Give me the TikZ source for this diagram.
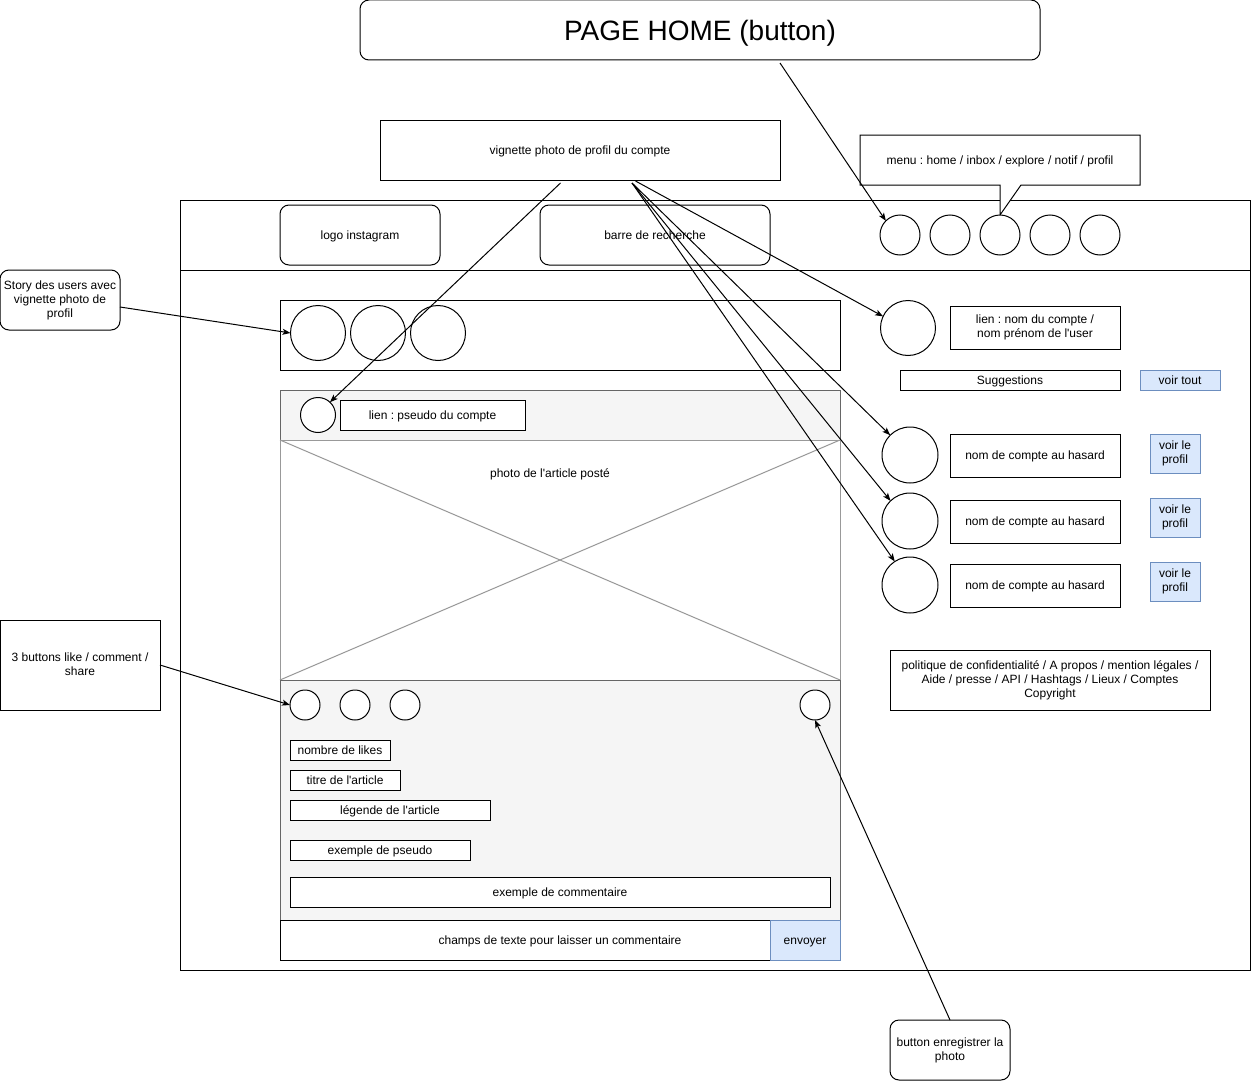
\documentclass[tikz,border=0pt]{standalone}
\usepackage{fontspec}
\setmainfont{Liberation Sans}
\usetikzlibrary{arrows.meta}
\definecolor{bluefill}{HTML}{DAE8FC}
\definecolor{blueline}{HTML}{6C8EBF}
\definecolor{grayfill}{HTML}{F5F5F5}
\definecolor{grayline}{HTML}{666666}
\definecolor{photoline}{HTML}{999999}
\newcommand\ap{\textquotesingle}
\newcommand\topstrut{\rule{0pt}{0.933em}}
\newcommand\botstrut{\rule[-0.217em]{0pt}{0pt}}
\frenchspacing
\tikzset{
  every node/.style={font=\fontsize{12}{14}\selectfont, inner sep=0pt, outer sep=0pt, align=center,
    execute at begin node=\topstrut, execute at end node=\botstrut},
  box/.style={draw, line width=1pt, fill=white},
  rbox/.style={box, rounded corners=9pt},
  bluebox/.style={draw=blueline, fill=bluefill, line width=1pt},
  graybox/.style={draw=grayline, fill=grayfill, line width=1pt},
  circ/.style={draw, circle, fill=white, line width=1pt},
  arr/.style={line width=1pt, -{Stealth[length=8pt,width=6pt,inset=2pt]}},
}
\begin{document}
\begin{tikzpicture}[x=1pt,y=-1pt]
\useasboundingbox (0,0) rectangle (1251,1081);
% main frame
\draw[line width=1pt] (180,200) rectangle (1250,970);
\draw[line width=1pt] (180,270) -- (1250,270);
% title
\node[rbox, minimum width=680pt, minimum height=60pt, font=\fontsize{28}{32}\selectfont] (home) at (700,30) {PAGE HOME (button)};
\node[box, minimum width=400pt, minimum height=60pt] (vign) at (580,150) {vignette photo de profil du compte};
% menu callout
\draw[line width=1pt, fill=white] (860,135) -- (1140,135) -- (1140,185) -- (1021,185) -- (1000,215) -- (1000,185) -- (860,185) -- cycle;
\node (menu) at (1000,160) {menu : home / inbox / explore / notif / profil};
% header
\node[rbox, minimum width=160pt, minimum height=60pt] (logo) at (360,235) {logo instagram};
\node[rbox, minimum width=230pt, minimum height=60pt] (search) at (655,235) {barre de recherche};
\foreach \i in {1,...,5} {
  \node[circ, minimum size=40pt] (m\i) at (850+50*\i,235) {};
}
% story
\node[rbox, minimum width=120pt, minimum height=60pt] (story) at (60,300) {Story des users avec\\vignette photo de\\profil};
\node[box, minimum width=560pt, minimum height=70pt] (storybox) at (560,335) {};
\node[circ, minimum size=55pt] (st1) at (318,333) {};
\node[circ, minimum size=55pt] (st2) at (378,333) {};
\node[circ, minimum size=55pt] (st3) at (438,333) {};
% right column
\node[circ, minimum size=55pt] (prof) at (908,328) {};
\node[box, minimum width=170pt, minimum height=43pt] (lien) at (1035,327.5) {lien : nom du compte /\\nom prénom de l\ap user};
\node[box, minimum width=220pt, minimum height=20pt] (sugg) at (1010,380) {Suggestions};
\node[bluebox, minimum width=80pt, minimum height=20pt] (voirtout) at (1180,380) {voir tout};
\node[circ, minimum size=56pt] (s1) at (910,455) {};
\node[circ, minimum size=56pt] (s2) at (910,521) {};
\node[circ, minimum size=56pt] (s3) at (910,585) {};
\node[box, minimum width=170pt, minimum height=43pt] (n1) at (1035,455.5) {nom de compte au hasard};
\node[box, minimum width=170pt, minimum height=43pt] (n2) at (1035,521.5) {nom de compte au hasard};
\node[box, minimum width=170pt, minimum height=43pt] (n3) at (1035,585.5) {nom de compte au hasard};
\node[bluebox, minimum width=50pt, minimum height=39pt] (v1) at (1175,453.5) {voir le\\profil};
\node[bluebox, minimum width=50pt, minimum height=39pt] (v2) at (1175,517.5) {voir le\\profil};
\node[bluebox, minimum width=50pt, minimum height=39pt] (v3) at (1175,581.5) {voir le\\profil};
\node[box, minimum width=320pt, minimum height=60pt] (pol) at (1050,680) {politique de confidentialité / A propos / mention légales /\\Aide / presse / API / Hashtags / Lieux / Comptes\\Copyright};
% post header
\node[graybox, minimum width=560pt, minimum height=50pt] (posthead) at (560,415) {};
\node[circ, minimum size=35pt] (pc) at (318,415) {};
\node[box, minimum width=185pt, minimum height=30pt] (pseudo) at (432.5,415) {lien : pseudo du compte};
% photo
\node[draw=photoline, fill=white, line width=1pt, minimum width=560pt, minimum height=240pt] (photo) at (560,560) {};
\draw[photoline, line width=1pt] (photo.north west) -- (photo.south east);
\draw[photoline, line width=1pt] (photo.south west) -- (photo.north east);
\node (phototxt) at (550,473) {photo de l\ap article posté};
% bottom
\node[graybox, minimum width=560pt, minimum height=240pt] (bottom) at (560,800) {};
\node[circ, minimum size=30pt] (b1) at (305,705) {};
\node[circ, minimum size=30pt] (b2) at (355,705) {};
\node[circ, minimum size=30pt] (b3) at (405,705) {};
\node[circ, minimum size=30pt] (sb) at (815,705) {};
\node[box, minimum width=100pt, minimum height=20pt] (likes) at (340,750) {nombre de likes};
\node[box, minimum width=110pt, minimum height=20pt] (titre) at (345,780) {titre de l\ap article};
\node[box, minimum width=200pt, minimum height=20pt] (legende) at (390,810) {légende de l\ap article};
\node[box, minimum width=180pt, minimum height=20pt] (expseudo) at (380,850) {exemple de pseudo};
\node[box, minimum width=540pt, minimum height=30pt] (excomm) at (560,892) {exemple de commentaire};
\node[box, minimum width=560pt, minimum height=40pt] (champ) at (560,940) {champs de texte pour laisser un commentaire};
\node[bluebox, minimum width=70pt, minimum height=40pt] (envoyer) at (805,940) {envoyer};
% callouts
\node[box, minimum width=160pt, minimum height=90pt] (btns) at (80,665) {3 buttons like / comment /\\share};
\node[rbox, minimum width=120pt, minimum height=60pt] (savecall) at (950,1050) {button enregistrer la\\photo};
% arrows
\coordinate (hstart) at (780,63);
\coordinate (vl) at (560.5,183);
\coordinate (vr) at (635.5,181);
\coordinate (vm) at (632,183);
\draw[arr] (hstart) -- (m1.135);
\draw[arr] (vl) -- (pc.47);
\draw[arr] (vr) -- (prof.155);
\draw[arr] (vm) -- (s1.135);
\draw[arr] (vm) -- (s2.134);
\draw[arr] (vm) -- (s3.123);
\draw[arr] ([yshift=-7pt]story.east) -- (st1.west);
\draw[arr] (btns.east) -- (b1.west);
\draw[arr] (savecall.north) -- (sb.south);
\end{tikzpicture}
\end{document}
